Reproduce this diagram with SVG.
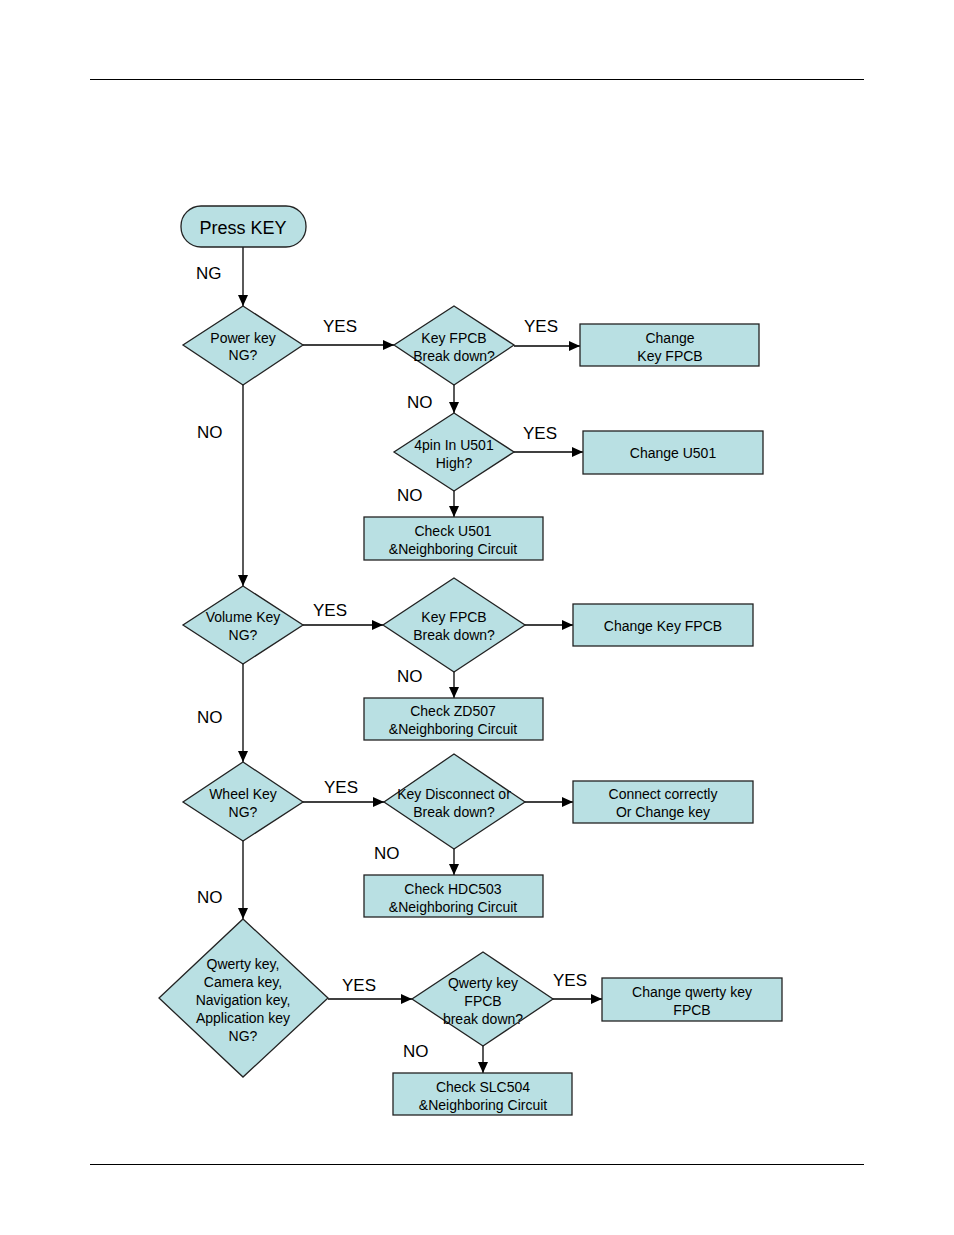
<svg xmlns="http://www.w3.org/2000/svg" width="954" height="1235" viewBox="0 0 954 1235">
<defs>
<marker id="ah" markerWidth="11" markerHeight="10" refX="11" refY="5" orient="auto" markerUnits="userSpaceOnUse">
<path d="M0,0 L11,5 L0,10 Z" fill="#000"/>
</marker>
<style>
.n{fill:#b9e0e3;stroke:#222;stroke-width:1.3}
.t{font-family:"Liberation Sans",Arial,sans-serif;font-size:14px;fill:#000;text-anchor:middle}
.l{font-family:"Liberation Sans",Arial,sans-serif;font-size:17px;fill:#000}
.c{stroke:#000;stroke-width:1.3;fill:none}
.a{marker-end:url(#ah)}
</style>
</defs>
<rect width="954" height="1235" fill="#fff"/>
<line x1="90" y1="79.5" x2="864" y2="79.5" stroke="#000" stroke-width="1"/>
<line x1="90" y1="1164.5" x2="864" y2="1164.5" stroke="#000" stroke-width="1"/>

<g id="connectors">
<line class="c a" x1="243" y1="247" x2="243" y2="306"/>
<line class="c a" x1="303" y1="345" x2="394" y2="345"/>
<line class="c a" x1="514" y1="346" x2="580" y2="346"/>
<line class="c a" x1="454" y1="385" x2="454" y2="413"/>
<line class="c a" x1="514" y1="452" x2="583" y2="452"/>
<line class="c a" x1="454" y1="491" x2="454" y2="517"/>
<line class="c a" x1="243" y1="385" x2="243" y2="586"/>
<line class="c a" x1="303" y1="625" x2="383" y2="625"/>
<line class="c a" x1="525" y1="625" x2="573" y2="625"/>
<line class="c a" x1="454" y1="672" x2="454" y2="698"/>
<line class="c a" x1="243" y1="664" x2="243" y2="762"/>
<line class="c a" x1="303" y1="802" x2="384" y2="802"/>
<line class="c a" x1="525" y1="802" x2="573" y2="802"/>
<line class="c a" x1="454" y1="849" x2="454" y2="875"/>
<line class="c a" x1="243" y1="841" x2="243" y2="919"/>
<line class="c a" x1="328" y1="999" x2="412" y2="999"/>
<line class="c a" x1="553" y1="999" x2="602" y2="999"/>
<line class="c a" x1="483" y1="1046" x2="483" y2="1073"/>
<text class="l" x="196" y="279">NG</text>
<text class="l" x="323" y="332">YES</text>
<text class="l" x="524" y="332">YES</text>
<text class="l" x="407" y="408">NO</text>
<text class="l" x="523" y="439">YES</text>
<text class="l" x="397" y="501">NO</text>
<text class="l" x="197" y="438">NO</text>
<text class="l" x="313" y="616">YES</text>
<text class="l" x="397" y="682">NO</text>
<text class="l" x="197" y="723">NO</text>
<text class="l" x="324" y="793">YES</text>
<text class="l" x="374" y="859">NO</text>
<text class="l" x="197" y="903">NO</text>
<text class="l" x="342" y="991">YES</text>
<text class="l" x="553" y="986">YES</text>
<text class="l" x="403" y="1057">NO</text>
</g>

<g id="start">
<rect class="n" x="181" y="206" width="125" height="41" rx="20" ry="20"/>
<text class="t" x="243" y="234" style="font-size:18px">Press KEY</text>
</g>

<g id="d_power">
<polygon class="n" points="243,306 303,345 243,385 183,345"/>
<text class="t" x="243" y="343">Power key</text>
<text class="t" x="243" y="360">NG?</text>
</g>
<g id="d_fpcb1">
<polygon class="n" points="454,306 514,345 454,385 394,345"/>
<text class="t" x="454" y="343">Key FPCB</text>
<text class="t" x="454" y="361">Break down?</text>
</g>
<g id="r_changefpcb1">
<rect class="n" x="580" y="324" width="179" height="42"/>
<text class="t" x="670" y="343">Change</text>
<text class="t" x="670" y="361">Key FPCB</text>
</g>
<g id="d_4pin">
<polygon class="n" points="454,413 514,452 454,491 394,452"/>
<text class="t" x="454" y="450">4pin In U501</text>
<text class="t" x="454" y="468">High?</text>
</g>
<g id="r_changeu501">
<rect class="n" x="583" y="431" width="180" height="43"/>
<text class="t" x="673" y="458">Change U501</text>
</g>
<g id="r_checku501">
<rect class="n" x="364" y="517" width="179" height="43"/>
<text class="t" x="453" y="536">Check U501</text>
<text class="t" x="453" y="554">&amp;Neighboring Circuit</text>
</g>

<g id="d_volume">
<polygon class="n" points="243,586 303,625 243,664 183,625"/>
<text class="t" x="243" y="622">Volume Key</text>
<text class="t" x="243" y="640">NG?</text>
</g>
<g id="d_fpcb2">
<polygon class="n" points="454,578 525,625 454,672 383,625"/>
<text class="t" x="454" y="622">Key FPCB</text>
<text class="t" x="454" y="640">Break down?</text>
</g>
<g id="r_changefpcb2">
<rect class="n" x="573" y="604" width="180" height="42"/>
<text class="t" x="663" y="631">Change Key FPCB</text>
</g>
<g id="r_checkzd507">
<rect class="n" x="364" y="698" width="179" height="42"/>
<text class="t" x="453" y="716">Check ZD507</text>
<text class="t" x="453" y="734">&amp;Neighboring Circuit</text>
</g>

<g id="d_wheel">
<polygon class="n" points="243,762 303,802 243,841 183,802"/>
<text class="t" x="243" y="799">Wheel Key</text>
<text class="t" x="243" y="817">NG?</text>
</g>
<g id="d_disconnect">
<polygon class="n" points="454,754 525,802 454,849 384,802"/>
<text class="t" x="454" y="799">Key Disconnect or</text>
<text class="t" x="454" y="817">Break down?</text>
</g>
<g id="r_connect">
<rect class="n" x="573" y="781" width="180" height="42"/>
<text class="t" x="663" y="799">Connect correctly</text>
<text class="t" x="663" y="817">Or Change key</text>
</g>
<g id="r_checkhdc503">
<rect class="n" x="364" y="875" width="179" height="42"/>
<text class="t" x="453" y="894">Check HDC503</text>
<text class="t" x="453" y="912">&amp;Neighboring Circuit</text>
</g>

<g id="d_qwerty">
<polygon class="n" points="243,919 328,998 243,1077 159,998"/>
<text class="t" x="243" y="969">Qwerty key,</text>
<text class="t" x="243" y="987">Camera key,</text>
<text class="t" x="243" y="1005">Navigation key,</text>
<text class="t" x="243" y="1023">Application key</text>
<text class="t" x="243" y="1041">NG?</text>
</g>
<g id="d_qwertyfpcb">
<polygon class="n" points="483,952 553,999 483,1046 412,999"/>
<text class="t" x="483" y="988">Qwerty key</text>
<text class="t" x="483" y="1006">FPCB</text>
<text class="t" x="483" y="1024">break down?</text>
</g>
<g id="r_changeqwerty">
<rect class="n" x="602" y="978" width="180" height="43"/>
<text class="t" x="692" y="997">Change qwerty key</text>
<text class="t" x="692" y="1015">FPCB</text>
</g>
<g id="r_checkslc504">
<rect class="n" x="393" y="1073" width="179" height="42"/>
<text class="t" x="483" y="1092">Check SLC504</text>
<text class="t" x="483" y="1110">&amp;Neighboring Circuit</text>
</g>
</svg>
